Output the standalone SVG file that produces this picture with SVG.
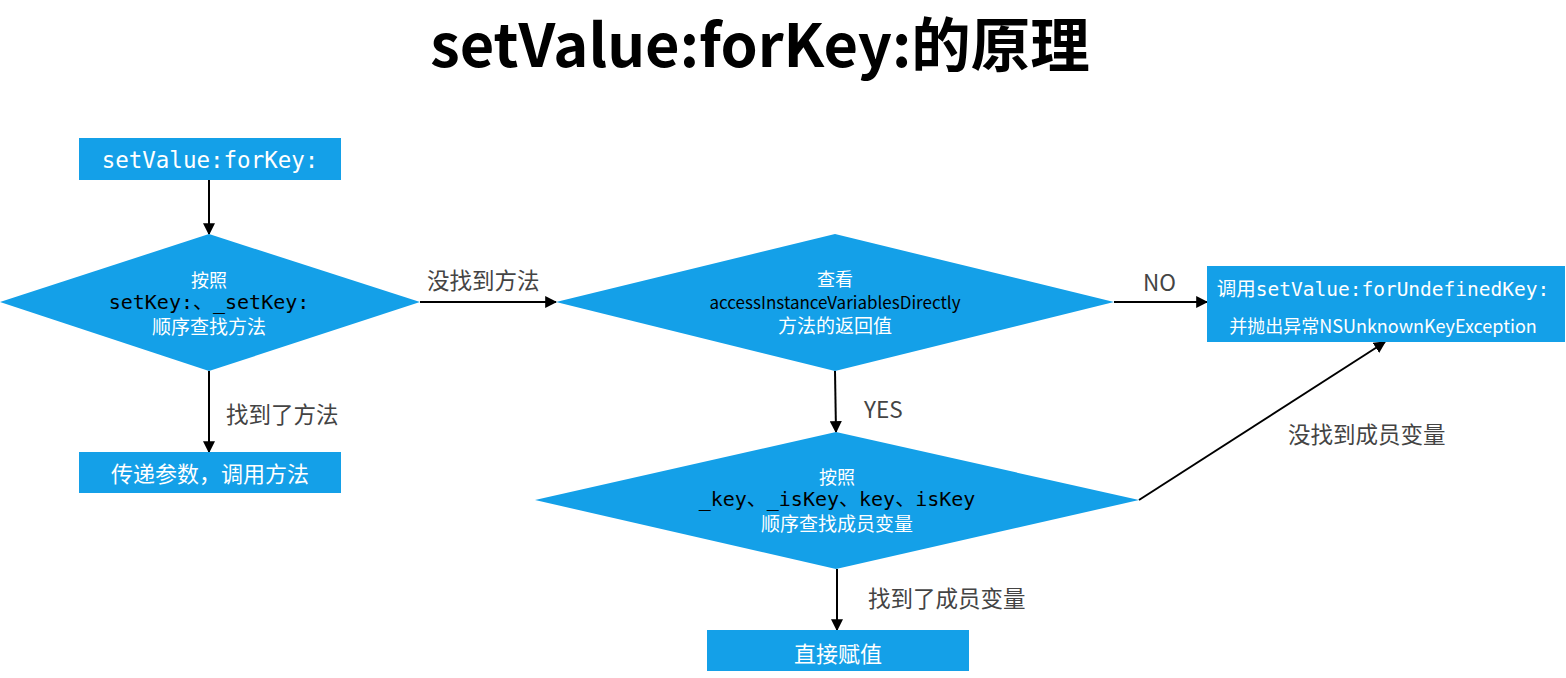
<svg xmlns="http://www.w3.org/2000/svg" width="1566" height="678" viewBox="0 0 1566 678">
<defs>
<style>
.node{fill:#14A0E8}
.w{fill:#fff;font-family:"Noto Sans CJK SC",sans-serif;text-anchor:middle}
.m{font-family:"DejaVu Sans Mono","Noto Sans CJK SC",monospace;text-anchor:middle}
.b{fill:#000}
.lbl{fill:#444;font-family:"Noto Sans CJK SC",sans-serif;font-size:22.5px}
.edge{stroke:#000;stroke-width:2;fill:none;marker-end:url(#arr)}
</style>
<marker id="arr" viewBox="0 0 10 10" refX="9" refY="5" markerWidth="6" markerHeight="6" orient="auto" markerUnits="strokeWidth">
<path d="M0,0 L10,5 L0,10 z" fill="#000"/>
</marker>
</defs>
<rect width="1566" height="678" fill="#fff"/>
<text x="760" y="67" text-anchor="middle" font-family="Noto Sans CJK SC,sans-serif" font-weight="bold" font-size="59.5" fill="#000">setValue:forKey:的原理</text>

<g id="edges">
<line class="edge" x1="209" y1="180" x2="209" y2="234"/>
<line class="edge" x1="209" y1="371" x2="209" y2="452"/>
<line class="edge" x1="420" y1="302" x2="556" y2="302"/>
<line class="edge" x1="1114" y1="302" x2="1207" y2="302"/>
<line class="edge" x1="835" y1="371" x2="836" y2="432"/>
<line class="edge" x1="837" y1="569" x2="837" y2="630"/>
<line class="edge" x1="1139" y1="500" x2="1385" y2="342"/>
<text class="lbl" x="427" y="289">没找到方法</text>
<text class="lbl" x="226" y="423">找到了方法</text>
<text class="lbl" x="1143" y="291">NO</text>
<text class="lbl" x="864" y="418">YES</text>
<text class="lbl" x="868" y="607">找到了成员变量</text>
<text class="lbl" x="1288" y="443">没找到成员变量</text>
</g>

<g id="start">
<rect class="node" x="79" y="138" width="262" height="42"/>
<text class="m w" x="210" y="168" font-size="22.5" fill="#fff">setValue:forKey:</text>
</g>

<g id="d1">
<polygon class="node" points="209,234 420,302 209,371 0,302"/>
<text class="w" x="209" y="287" font-size="18">按照</text>
<text class="m b" x="209" y="309" font-size="20">setKey:、_setKey:</text>
<text class="w" x="209" y="334" font-size="19">顺序查找方法</text>
</g>

<g id="callMethod">
<rect class="node" x="79" y="452" width="262" height="41"/>
<text class="w" x="210" y="482" font-size="22">传递参数，调用方法</text>
</g>

<g id="d2">
<polygon class="node" points="835,234 1114,302 835,371 556,302"/>
<text class="w" x="835" y="286" font-size="18">查看</text>
<text x="835" y="309" font-size="17" text-anchor="middle" font-family="Noto Sans CJK SC,sans-serif" fill="#000" textLength="251" lengthAdjust="spacingAndGlyphs">accessInstanceVariablesDirectly</text>
<text class="w" x="835" y="333" font-size="19">方法的返回值</text>
</g>

<g id="undefined">
<rect class="node" x="1207" y="266" width="358" height="76"/>
<text x="1383" y="296" font-size="19.5" text-anchor="middle" fill="#fff"><tspan font-family="Noto Sans CJK SC,sans-serif">调用</tspan><tspan font-family="DejaVu Sans Mono,monospace">setValue:forUndefinedKey:</tspan></text>
<text class="w" x="1383" y="333" font-size="18">并抛出异常NSUnknownKeyException</text>
</g>

<g id="d3">
<polygon class="node" points="836,432 1139,500 836,569 535,500"/>
<text class="w" x="837" y="484" font-size="18">按照</text>
<text class="m b" x="837" y="506" font-size="20">_key、_isKey、key、isKey</text>
<text class="w" x="837" y="531" font-size="19">顺序查找成员变量</text>
</g>

<g id="assign">
<rect class="node" x="707" y="630" width="262" height="41"/>
<text class="w" x="838" y="662" font-size="22">直接赋值</text>
</g>
</svg>
